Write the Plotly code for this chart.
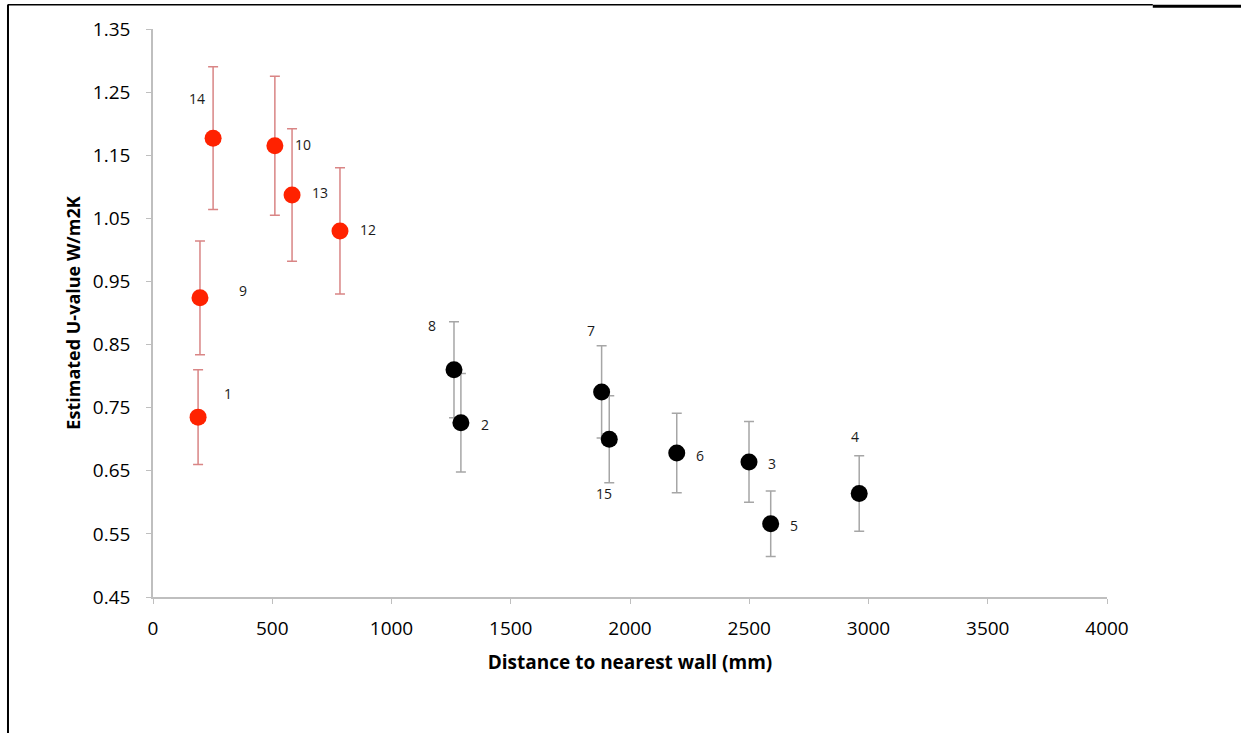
import plotly.graph_objects as go

# Data
red_ids = ["14", "10", "13", "12", "9", "1"]
red_x = [252, 511, 583, 784, 197, 189]
red_y = [1.177, 1.165, 1.087, 1.030, 0.924, 0.735]
red_err = [0.113, 0.110, 0.105, 0.100, 0.090, 0.075]

black_ids = ["8", "2", "7", "15", "6", "3", "5", "4"]
black_x = [1262, 1291, 1881, 1913, 2196, 2499, 2590, 2961]
black_y = [0.810, 0.726, 0.775, 0.700, 0.678, 0.664, 0.566, 0.614]
black_err = [0.076, 0.078, 0.073, 0.069, 0.063, 0.064, 0.052, 0.060]

# label offsets in pixels (xshift, yshift)
red_shift = [(-16, 40), (28, 1), (28, 2), (28, 1), (43, 7), (30, 24)]
black_shift = [(-22, 44), (24, -2), (-11, 61), (-5, -54), (23, -2), (23, -2), (23, -2), (-4, 57)]

y_ticks = [0.45, 0.55, 0.65, 0.75, 0.85, 0.95, 1.05, 1.15, 1.25, 1.35]
x_ticks = [0, 500, 1000, 1500, 2000, 2500, 3000, 3500, 4000]

FONT = "Open Sans"

fig = go.Figure()
fig.add_trace(go.Scatter(
    x=black_x, y=black_y, mode="markers",
    marker=dict(color="#000000", size=17),
    error_y=dict(type="data", array=black_err, color="#A6A6A6", thickness=1.5, width=5),
    showlegend=False,
))
fig.add_trace(go.Scatter(
    x=red_x, y=red_y, mode="markers",
    marker=dict(color="#FF2200", size=17),
    error_y=dict(type="data", array=red_err, color="#D98585", thickness=1.5, width=5),
    showlegend=False,
))

for ids, xs, ys, shifts in [(red_ids, red_x, red_y, red_shift), (black_ids, black_x, black_y, black_shift)]:
    for i, x, y, (dx, dy) in zip(ids, xs, ys, shifts):
        fig.add_annotation(x=x, y=y, text=i, showarrow=False, xshift=dx, yshift=dy,
                           font=dict(family=FONT, size=14, color="#1a1a1a"))

# border lines
fig.add_shape(type="line", xref="paper", yref="paper", x0=-0.152, x1=-0.152, y0=1.043, y1=-0.3,
              line=dict(color="black", width=2))
fig.add_shape(type="line", xref="paper", yref="paper", x0=-0.152, x1=1.048, y0=1.0425, y1=1.0425,
              line=dict(color="black", width=1.5))
fig.add_shape(type="line", xref="paper", yref="paper", x0=1.048, x1=1.15, y0=1.04, y1=1.04,
              line=dict(color="black", width=3))

fig.update_layout(
    width=1241, height=733,
    margin=dict(l=153, r=134, t=29, b=136),
    plot_bgcolor="white", paper_bgcolor="white",
    font=dict(family=FONT, color="#000000"),
    xaxis=dict(range=[0, 4000], tickvals=x_ticks, ticktext=[str(v) for v in x_ticks],
               showgrid=False, zeroline=False, showline=True, linecolor="#BFBFBF", linewidth=1.5,
               ticks="outside", ticklen=5, tickcolor="#BFBFBF",
               tickfont=dict(family=FONT, size=19), ticklabelstandoff=8,
               title=dict(text="<b>Distance to nearest wall (mm)</b>", font=dict(family=FONT, size=19), standoff=16)),
    yaxis=dict(range=[0.45, 1.35], tickvals=y_ticks, ticktext=[f"{v:.2f}" for v in y_ticks],
               showgrid=False, zeroline=False, showline=True, linecolor="#BFBFBF", linewidth=1.5,
               ticks="outside", ticklen=5, tickcolor="#BFBFBF",
               tickfont=dict(family=FONT, size=19), ticklabelstandoff=12,
               title=dict(text="<b>Estimated U-value W/m2K</b>", font=dict(family=FONT, size=18), standoff=8)),
)

fig.write_html("out.html", config={"displayModeBar": False},
               post_script="document.body.style.margin='0';document.body.style.padding='0';")
